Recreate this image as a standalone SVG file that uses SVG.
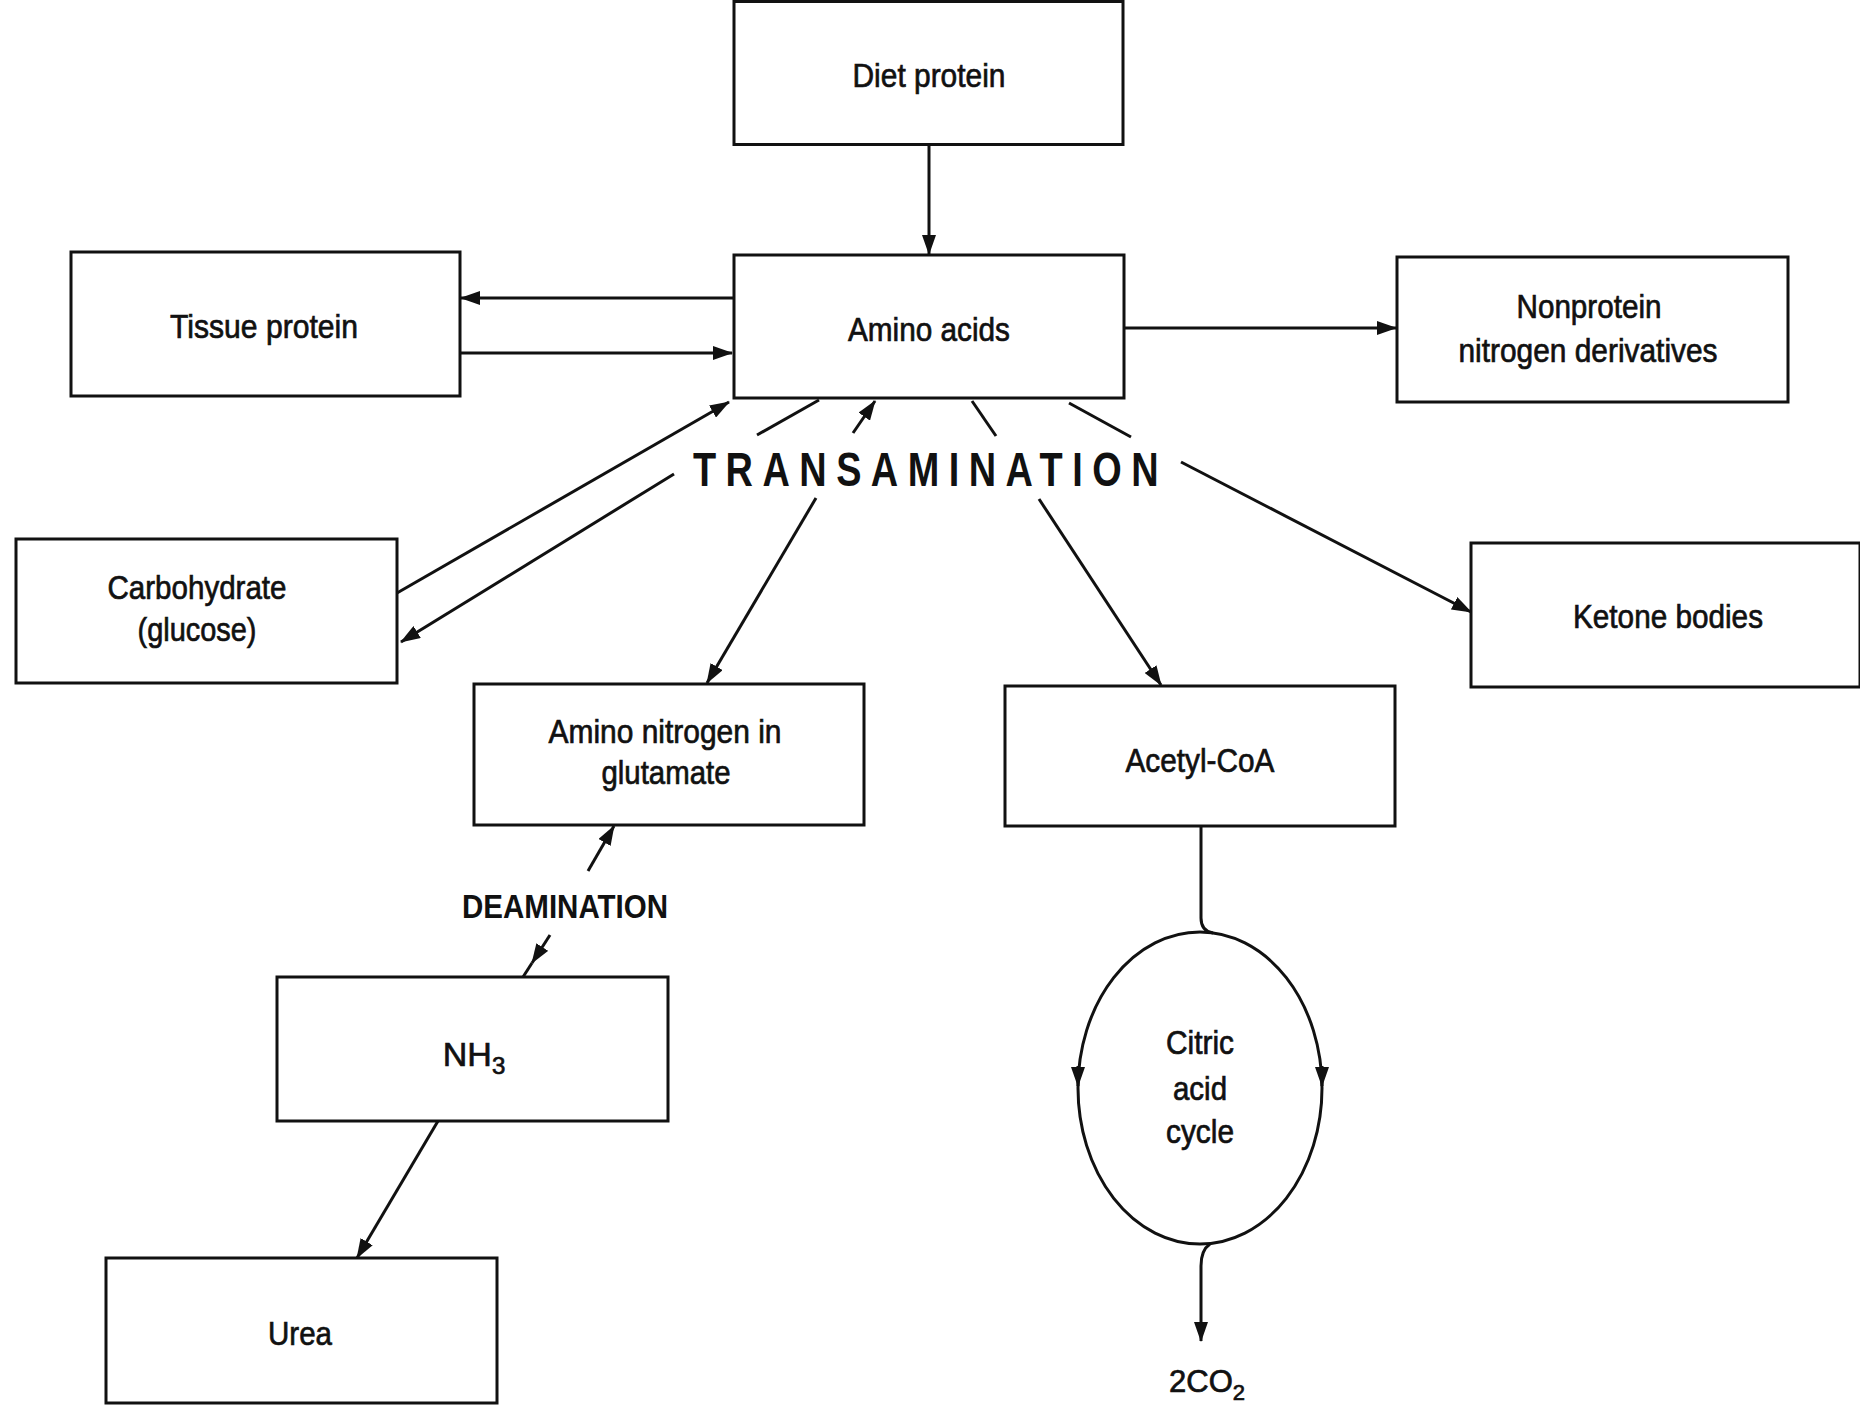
<svg xmlns="http://www.w3.org/2000/svg" width="1860" height="1408" viewBox="0 0 1860 1408">
  <style>
    .box { fill: #fff; stroke: #111; stroke-width: 3; }
    .lbl { font-family: "Liberation Sans", Arial, sans-serif; font-size: 34px; fill: #111; stroke: #111; stroke-width: 0.7; text-anchor: middle; }
    .big { font-family: "Liberation Sans", Arial, sans-serif; font-weight: bold; fill: #111; }
    .edge { fill: none; stroke: #111; stroke-width: 3; }
  </style>
  <defs>
    <marker id="arrow" markerUnits="userSpaceOnUse" markerWidth="20" markerHeight="14" refX="19" refY="7" orient="auto">
      <path d="M0,0 L20,7 L0,14 z" fill="#111"/>
    </marker>
  </defs>
  <rect width="1860" height="1408" fill="#fff"/>

  <!-- nodes -->
  <g id="diet-protein">
    <rect class="box" x="734" y="1.5" width="389" height="143"/>
    <text class="lbl" x="929" y="87" textLength="153" lengthAdjust="spacingAndGlyphs">Diet protein</text>
  </g>
  <g id="amino-acids">
    <rect class="box" x="734" y="255" width="390" height="143"/>
    <text class="lbl" x="929" y="341" textLength="162" lengthAdjust="spacingAndGlyphs">Amino acids</text>
  </g>
  <g id="tissue-protein">
    <rect class="box" x="71" y="252" width="389" height="144"/>
    <text class="lbl" x="264" y="338" textLength="188" lengthAdjust="spacingAndGlyphs">Tissue protein</text>
  </g>
  <g id="nonprotein-nitrogen">
    <rect class="box" x="1397" y="257" width="391" height="145"/>
    <text class="lbl" x="1589" y="318" textLength="145" lengthAdjust="spacingAndGlyphs">Nonprotein</text>
    <text class="lbl" x="1588" y="362" textLength="259" lengthAdjust="spacingAndGlyphs">nitrogen derivatives</text>
  </g>
  <g id="carbohydrate">
    <rect class="box" x="16" y="539" width="381" height="144"/>
    <text class="lbl" x="197" y="599" textLength="179" lengthAdjust="spacingAndGlyphs">Carbohydrate</text>
    <text class="lbl" x="197" y="641" textLength="119" lengthAdjust="spacingAndGlyphs">(glucose)</text>
  </g>
  <g id="ketone-bodies">
    <rect class="box" x="1471" y="543" width="389" height="144"/>
    <text class="lbl" x="1668" y="628" textLength="190" lengthAdjust="spacingAndGlyphs">Ketone bodies</text>
  </g>
  <g id="amino-nitrogen">
    <rect class="box" x="474" y="684" width="390" height="141"/>
    <text class="lbl" x="665" y="743" textLength="233" lengthAdjust="spacingAndGlyphs">Amino nitrogen in</text>
    <text class="lbl" x="666" y="784" textLength="129" lengthAdjust="spacingAndGlyphs">glutamate</text>
  </g>
  <g id="acetyl-coa">
    <rect class="box" x="1005" y="686" width="390" height="140"/>
    <text class="lbl" x="1200" y="772" textLength="149" lengthAdjust="spacingAndGlyphs">Acetyl-CoA</text>
  </g>
  <g id="nh3">
    <rect class="box" x="277" y="977" width="391" height="144"/>
    <text class="lbl" x="474" y="1066">NH<tspan font-size="24" dy="8">3</tspan></text>
  </g>
  <g id="urea">
    <rect class="box" x="106" y="1258" width="391" height="145"/>
    <text class="lbl" x="300" y="1345" textLength="64" lengthAdjust="spacingAndGlyphs">Urea</text>
  </g>
  <g id="citric-acid-cycle">
    <ellipse class="edge" cx="1200" cy="1088" rx="122" ry="156"/>
    <text class="lbl" x="1200" y="1054" textLength="68" lengthAdjust="spacingAndGlyphs">Citric</text>
    <text class="lbl" x="1200" y="1100" textLength="54" lengthAdjust="spacingAndGlyphs">acid</text>
    <text class="lbl" x="1200" y="1143" textLength="68" lengthAdjust="spacingAndGlyphs">cycle</text>
  </g>
  <g id="co2">
    <text class="lbl" x="1207" y="1392" style="font-size:31px">2CO<tspan font-size="22" dy="8">2</tspan></text>
  </g>

  <!-- process labels -->
  <g id="transamination">
    <text class="big" x="693" y="486" font-size="48" letter-spacing="12" textLength="475" lengthAdjust="spacingAndGlyphs">TRANSAMINATION</text>
  </g>
  <g id="deamination">
    <text class="big" x="462" y="918" font-size="34" textLength="206" lengthAdjust="spacingAndGlyphs">DEAMINATION</text>
  </g>

  <!-- connectors -->
  <g id="connectors">
    <path class="edge" d="M929,145 L929,254" marker-end="url(#arrow)"/>
    <path class="edge" d="M733,298 L461,298" marker-end="url(#arrow)"/>
    <path class="edge" d="M461,353 L732,353" marker-end="url(#arrow)"/>
    <path class="edge" d="M1124,328 L1396,328" marker-end="url(#arrow)"/>
    <path class="edge" d="M397,593 L729,402" marker-end="url(#arrow)"/>
    <path class="edge" d="M674,474 L401,642" marker-end="url(#arrow)"/>
    <path class="edge" d="M757,435 L819,400"/>
    <path class="edge" d="M853,433 L875,401" marker-end="url(#arrow)"/>
    <path class="edge" d="M972,401 L996,436"/>
    <path class="edge" d="M1069,403 L1131,437"/>
    <path class="edge" d="M1181,462 L1471,612" marker-end="url(#arrow)"/>
    <path class="edge" d="M816,498 L707,683" marker-end="url(#arrow)"/>
    <path class="edge" d="M1039,499 L1161,685" marker-end="url(#arrow)"/>
    <path class="edge" d="M1201,826 V918 Q1201,931 1213,933"/>
    <path class="edge" d="M1078,1066 L1078,1086" marker-end="url(#arrow)"/>
    <path class="edge" d="M1322,1066 L1322,1086" marker-end="url(#arrow)"/>
    <path class="edge" d="M1210,1244 Q1201,1250 1201,1266 V1341" marker-end="url(#arrow)"/>
    <path class="edge" d="M588,871 L614,826" marker-end="url(#arrow)"/>
    <path class="edge" d="M550,935 L532,963" marker-end="url(#arrow)"/>
    <path class="edge" d="M532,963 L523,977"/>
    <path class="edge" d="M438,1121 L357,1258" marker-end="url(#arrow)"/>
  </g>
</svg>
